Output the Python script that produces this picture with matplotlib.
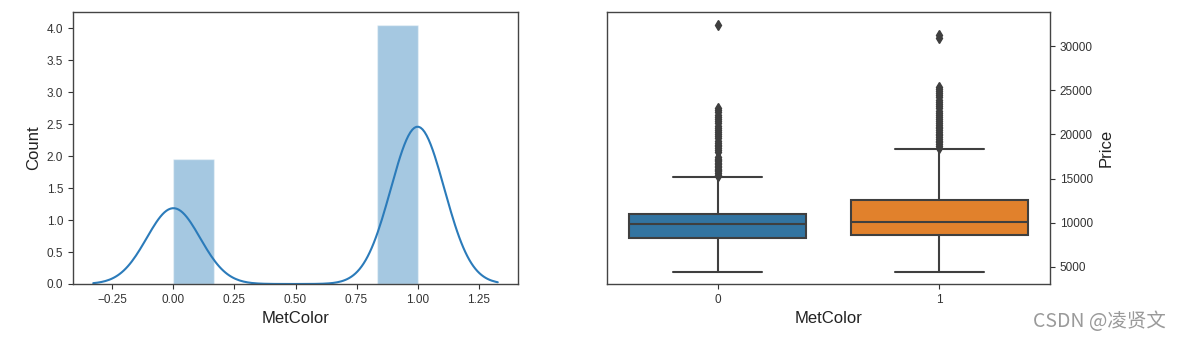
import numpy as np
import matplotlib
matplotlib.use("Agg")
import matplotlib.pyplot as plt
import seaborn as sns

sns.set_style("ticks")
plt.rcParams['font.family'] = ['Liberation Sans', 'DejaVu Sans']

# ---- data ----
met_categories = [0, 1]
met_counts = [467, 969]          # number of cars per MetColor value

box_labels = ["0", "1"]
whisker_low = [4350, 4350]
q1 = [8300, 8630]
median = [9890, 10040]
q3 = [11020, 12580]
whisker_high = [15160, 18400]
fliers_0 = [15250, 15450, 15650, 15800, 15950, 16100, 16300, 16450, 16650, 16800,
            16950, 17100, 17250, 17450, 18050, 18250, 18450, 18650, 18850, 19050,
            19300, 19550, 19800, 20000, 20250, 20500, 20750, 21000, 21250, 21500,
            21750, 22000, 22250, 22500, 22750, 22950, 32450]
fliers_1 = [18500, 18700, 18900, 19100, 19300, 19500, 19700, 19900, 20100, 20300,
            20500, 20700, 20900, 21100, 21300, 21500, 21700, 21950, 22200, 22450,
            22700, 22950, 23200, 23450, 23700, 23950, 24200, 24450, 24700, 24950,
            25200, 25400, 30900, 31250]
box_colors = ["#3274a1", "#e1812c"]
watermark = "CSDN @凌贤文"

fig = plt.figure(figsize=(11.8, 3.43), dpi=100)
ax1 = fig.add_axes([73/1180, 59/343, 445/1180, 272/343])
ax2 = fig.add_axes([607/1180, 59/343, 443/1180, 272/343])

for ax in (ax1, ax2):
    for s in ax.spines.values():
        s.set_color("#444444")
        s.set_linewidth(1.0)
    ax.tick_params(labelsize=8.5, colors="#333333", length=3.5, width=0.8)

# ---- left: distplot-like ----
values = np.repeat(met_categories, met_counts).astype(float)
ax1.hist(values, bins=6, density=True, color="#1f77b4", alpha=0.4,
         edgecolor="white", linewidth=1.0)
sns.kdeplot(x=values, ax=ax1, cut=3, color="#2b7bba", linewidth=1.5)
ax1.set_ylim(0, None)
ax1.set_xlabel("MetColor", fontsize=12, color="#222222")
ax1.set_ylabel("Count", fontsize=12, color="#222222")
ax1.set_xticks([-0.25, 0.0, 0.25, 0.5, 0.75, 1.0, 1.25])
ax1.set_yticks(np.arange(0, 4.01, 0.5))

# ---- right: boxplot ----
stats = []
for i in range(2):
    stats.append(dict(label=box_labels[i], whislo=whisker_low[i], q1=q1[i],
                      med=median[i], q3=q3[i], whishi=whisker_high[i],
                      fliers=[fliers_0, fliers_1][i]))
line_col = "#3f3f3f"
bp = ax2.bxp(stats, positions=[0, 1], widths=0.8, patch_artist=True,
             boxprops=dict(edgecolor=line_col, linewidth=1.5),
             medianprops=dict(color=line_col, linewidth=1.5),
             whiskerprops=dict(color=line_col, linewidth=1.5),
             capprops=dict(color=line_col, linewidth=1.5),
             capwidths=0.4,
             flierprops=dict(marker="d", markerfacecolor=line_col,
                             markeredgecolor=line_col, markersize=5))
for patch, c in zip(bp["boxes"], box_colors):
    patch.set_facecolor(c)
ax2.set_xlim(-0.5, 1.5)
ax2.set_ylim(3030, 33900)
ax2.yaxis.tick_right()
ax2.yaxis.set_label_position("right")
ax2.set_yticks([5000, 10000, 15000, 20000, 25000, 30000])
ax2.set_xlabel("MetColor", fontsize=12, color="#222222")
ax2.set_ylabel("Price", fontsize=12, color="#222222")

fig.text(1166/1180, (343-327)/343, watermark, ha="right", va="baseline",
         fontsize=14, color="#9a9a9a",
         family=["Noto Sans CJK SC", "DejaVu Sans"])

fig.savefig("out.png", dpi=100)
